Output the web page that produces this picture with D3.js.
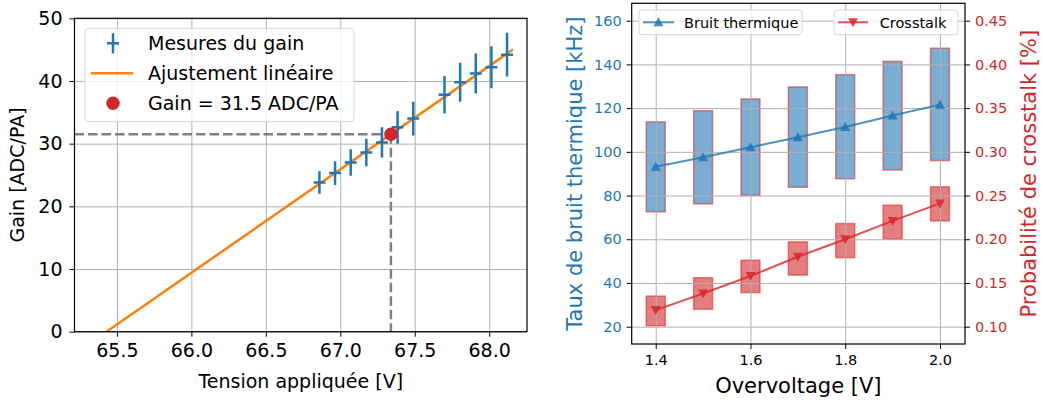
<!DOCTYPE html>
<html><head><meta charset="utf-8">
<script src="https://cdn.jsdelivr.net/npm/d3@7"></script>
<style>body{margin:0;background:#fff} svg{display:block;font-family:"DejaVu Sans",sans-serif}</style>
</head><body><svg id="c" width="1043" height="403"></svg>
<script>
// ---------- Left panel data ----------
const voltages = [66.86, 66.965, 67.07, 67.175, 67.28, 67.385, 67.49, 67.70, 67.805, 67.91, 68.015, 68.12];
const gains    = [23.8, 25.3, 27.0, 28.6, 30.2, 32.6, 34.0, 37.8, 39.8, 41.2, 42.2, 44.2];
const gainErr  = [1.8, 1.9, 2.1, 2.2, 2.4, 2.6, 2.7, 3.0, 3.1, 3.2, 3.35, 3.5];
const voltErr  = [0.04, 0.04, 0.04, 0.04, 0.04, 0.04, 0.04, 0.04, 0.04, 0.04, 0.04, 0.04];
const fitVoltRange = [65.43, 68.16];
const fitSlope = 16.49;      // ADC/PA per V
const fitZero = 65.43;       // V at gain 0
const gainPoint = [67.34, 31.5];
const xTicksLeft = [65.5, 66.0, 66.5, 67.0, 67.5, 68.0];
const yTicksLeft = [0, 10, 20, 30, 40, 50];
const legendLeft = ["Mesures du gain", "Ajustement linéaire", "Gain = 31.5 ADC/PA"];

// ---------- Right panel data ----------
const overvoltage = [1.4, 1.5, 1.6, 1.7, 1.8, 1.9, 2.0];
const thermal     = [93.2, 97.5, 102.1, 106.7, 111.4, 116.6, 121.6];
const thermalLow  = [72.6, 76.2, 80.1, 83.8, 87.7, 91.7, 96.0];
const thermalHigh = [113.7, 118.8, 124.2, 129.7, 135.3, 141.4, 147.4];
const crosstalk   = [0.119, 0.138, 0.158, 0.180, 0.200, 0.221, 0.241];
const crossLow    = [0.101, 0.120, 0.139, 0.159, 0.179, 0.200, 0.221];
const crossHigh   = [0.135, 0.156, 0.176, 0.197, 0.218, 0.239, 0.260];
const xTicksRight = [1.4, 1.6, 1.8, 2.0];
const yTicksThermal = [20, 40, 60, 80, 100, 120, 140, 160];
const yTicksCross = [0.10, 0.15, 0.20, 0.25, 0.30, 0.35, 0.40, 0.45];

const BLUE = "#1f77b4", ORANGE = "#ff7f0e", RED = "#d62728", GRID = "#b0b0b0";
const svg = d3.select("#c");

function styleAxis(g, color, fs) {
  g.select(".domain").remove();
  g.selectAll(".tick line").attr("stroke", "#000").attr("stroke-width", 1);
  g.selectAll(".tick text").attr("fill", color).attr("font-size", fs).attr("font-family", "DejaVu Sans");
}

// ================= LEFT PANEL =================
const L = {x0: 74.5, x1: 527, y0: 18.3, y1: 331.7};
const xL = d3.scaleLinear().domain([65.215, 68.254]).range([L.x0, L.x1]);
const yL = d3.scaleLinear().domain([0, 50]).range([L.y1, L.y0]);
const left = svg.append("g");

// grid
left.append("g").attr("transform", `translate(0,${L.y1})`)
  .call(d3.axisBottom(xL).tickValues(xTicksLeft).tickSize(-(L.y1 - L.y0)).tickFormat(""))
  .call(g => { g.select(".domain").remove(); g.selectAll("line").attr("stroke", GRID).attr("stroke-width", 1); });
left.append("g").attr("transform", `translate(${L.x0},0)`)
  .call(d3.axisLeft(yL).tickValues(yTicksLeft).tickSize(-(L.x1 - L.x0)).tickFormat(""))
  .call(g => { g.select(".domain").remove(); g.selectAll("line").attr("stroke", GRID).attr("stroke-width", 1); });

svg.append("clipPath").attr("id", "clipL").append("rect")
  .attr("x", L.x0).attr("y", L.y0).attr("width", L.x1 - L.x0).attr("height", L.y1 - L.y0);
const plotL = left.append("g").attr("clip-path", "url(#clipL)");

// fit line
const fitPts = fitVoltRange.map(v => [v, fitSlope * (v - fitZero)]);
plotL.append("path").datum(fitPts)
  .attr("d", d3.line().x(d => xL(d[0])).y(d => yL(d[1])))
  .attr("fill", "none").attr("stroke", ORANGE).attr("stroke-width", 2.5);

// dashed guides
plotL.append("line").attr("x1", L.x0).attr("x2", xL(gainPoint[0]))
  .attr("y1", yL(gainPoint[1])).attr("y2", yL(gainPoint[1]))
  .attr("stroke", "#808080").attr("stroke-width", 2.5).attr("stroke-dasharray", "9.5,4");
plotL.append("line").attr("x1", xL(gainPoint[0])).attr("x2", xL(gainPoint[0]))
  .attr("y1", yL(gainPoint[1])).attr("y2", yL(0))
  .attr("stroke", "#808080").attr("stroke-width", 2.5).attr("stroke-dasharray", "9.5,4");

// error bars
const eb = plotL.selectAll("g.eb").data(voltages.map((v, i) => ({v, g: gains[i], ge: gainErr[i], ve: voltErr[i]})))
  .enter().append("g");
eb.append("line").attr("x1", d => xL(d.v)).attr("x2", d => xL(d.v))
  .attr("y1", d => yL(d.g - d.ge)).attr("y2", d => yL(d.g + d.ge))
  .attr("stroke", BLUE).attr("stroke-width", 2.5);
eb.append("line").attr("x1", d => xL(d.v - d.ve)).attr("x2", d => xL(d.v + d.ve))
  .attr("y1", d => yL(d.g)).attr("y2", d => yL(d.g))
  .attr("stroke", BLUE).attr("stroke-width", 2.5);

// red dot
plotL.append("circle").attr("cx", xL(gainPoint[0])).attr("cy", yL(gainPoint[1])).attr("r", 6.7).attr("fill", RED);

// axes
left.append("g").attr("transform", `translate(0,${L.y1})`)
  .call(d3.axisBottom(xL).tickValues(xTicksLeft).tickFormat(d3.format(".1f")).tickSize(5).tickPadding(7))
  .call(g => styleAxis(g, "#000", 19));
left.append("g").attr("transform", `translate(${L.x0},0)`)
  .call(d3.axisLeft(yL).tickValues(yTicksLeft).tickFormat(d3.format("d")).tickSize(5).tickPadding(7))
  .call(g => styleAxis(g, "#000", 19));
left.append("rect").attr("x", L.x0).attr("y", L.y0).attr("width", L.x1 - L.x0).attr("height", L.y1 - L.y0)
  .attr("fill", "none").attr("stroke", "#000").attr("stroke-width", 1.2);

left.append("text").attr("x", (L.x0 + L.x1) / 2).attr("y", 388).attr("text-anchor", "middle")
  .attr("font-size", 19).text("Tension appliquée [V]");
left.append("text").attr("transform", `translate(24,${(L.y0 + L.y1) / 2}) rotate(-90)`).attr("text-anchor", "middle")
  .attr("font-size", 19).text("Gain [ADC/PA]");

// legend left
const lg = left.append("g");
lg.append("rect").attr("x", 85).attr("y", 28.3).attr("width", 269).attr("height", 93.4).attr("rx", 4)
  .attr("fill", "#fff").attr("fill-opacity", 0.8).attr("stroke", "#d6d6d6").attr("stroke-width", 1);
const rows = [43.3, 73.3, 103.3];
lg.append("line").attr("x1", 113).attr("x2", 113).attr("y1", rows[0] - 10).attr("y2", rows[0] + 10).attr("stroke", BLUE).attr("stroke-width", 2.5);
lg.append("line").attr("x1", 107).attr("x2", 119).attr("y1", rows[0]).attr("y2", rows[0]).attr("stroke", BLUE).attr("stroke-width", 2.5);
lg.append("line").attr("x1", 90.7).attr("x2", 133.3).attr("y1", rows[1]).attr("y2", rows[1]).attr("stroke", ORANGE).attr("stroke-width", 2.5);
lg.append("circle").attr("cx", 113).attr("cy", rows[2]).attr("r", 6.7).attr("fill", RED);
legendLeft.forEach((t, i) => {
  lg.append("text").attr("x", 148).attr("y", rows[i]).attr("dy", "0.36em").attr("font-size", 19).text(t);
});

// ================= RIGHT PANEL =================
const R = {x0: 631.7, x1: 965, y0: 3.3, y1: 344};
const xR = d3.scaleLinear().domain([1.3493, 2.0528]).range([R.x0, R.x1]);
const yT = d3.scaleLinear().domain([12.08, 167.96]).range([R.y1, R.y0]);
const yC = d3.scaleLinear().domain([0.0802, 0.4699]).range([R.y1, R.y0]);
const right = svg.append("g");
const boxHalf = 0.02;

svg.append("clipPath").attr("id", "clipR").append("rect")
  .attr("x", R.x0).attr("y", R.y0).attr("width", R.x1 - R.x0).attr("height", R.y1 - R.y0);
const plotR = right.append("g").attr("clip-path", "url(#clipR)");

// thermal boxes
plotR.selectAll("rect.tb").data(overvoltage.map((x, i) => ({x, lo: thermalLow[i], hi: thermalHigh[i]})))
  .enter().append("rect")
  .attr("x", d => xR(d.x - boxHalf)).attr("width", d => xR(d.x + boxHalf) - xR(d.x - boxHalf))
  .attr("y", d => yT(d.hi)).attr("height", d => yT(d.lo) - yT(d.hi))
  .attr("fill", BLUE).attr("fill-opacity", 0.6)
  .attr("stroke", RED).attr("stroke-opacity", 0.55).attr("stroke-width", 1.5);

// crosstalk boxes
plotR.selectAll("rect.cb").data(overvoltage.map((x, i) => ({x, lo: crossLow[i], hi: crossHigh[i]})))
  .enter().append("rect")
  .attr("x", d => xR(d.x - boxHalf)).attr("width", d => xR(d.x + boxHalf) - xR(d.x - boxHalf))
  .attr("y", d => yC(d.hi)).attr("height", d => yC(d.lo) - yC(d.hi))
  .attr("fill", RED).attr("fill-opacity", 0.6)
  .attr("stroke", RED).attr("stroke-opacity", 0.55).attr("stroke-width", 1.5);

// grid (drawn above boxes, as in the reference)
right.append("g").attr("transform", `translate(0,${R.y1})`)
  .call(d3.axisBottom(xR).tickValues(xTicksRight).tickSize(-(R.y1 - R.y0)).tickFormat(""))
  .call(g => { g.select(".domain").remove(); g.selectAll("line").attr("stroke", GRID).attr("stroke-width", 1); });
right.append("g").attr("transform", `translate(${R.x0},0)`)
  .call(d3.axisLeft(yT).tickValues(yTicksThermal).tickSize(-(R.x1 - R.x0)).tickFormat(""))
  .call(g => { g.select(".domain").remove(); g.selectAll("line").attr("stroke", GRID).attr("stroke-width", 1); });

// lines + markers
const plotR2 = right.append("g").attr("clip-path", "url(#clipR)");
const triUp = "M0,-5L5,4L-5,4Z", triDown = "M0,5L5,-4L-5,-4Z";
plotR2.append("path").datum(overvoltage.map((x, i) => [x, thermal[i]]))
  .attr("d", d3.line().x(d => xR(d[0])).y(d => yT(d[1])))
  .attr("fill", "none").attr("stroke", BLUE).attr("stroke-width", 2).attr("stroke-opacity", 0.8);
plotR2.selectAll("path.tm").data(overvoltage.map((x, i) => [x, thermal[i]])).enter().append("path")
  .attr("d", triUp).attr("transform", d => `translate(${xR(d[0])},${yT(d[1])})`)
  .attr("fill", BLUE).attr("fill-opacity", 0.85);
plotR2.append("path").datum(overvoltage.map((x, i) => [x, crosstalk[i]]))
  .attr("d", d3.line().x(d => xR(d[0])).y(d => yC(d[1])))
  .attr("fill", "none").attr("stroke", RED).attr("stroke-width", 2).attr("stroke-opacity", 0.8);
plotR2.selectAll("path.cm").data(overvoltage.map((x, i) => [x, crosstalk[i]])).enter().append("path")
  .attr("d", triDown).attr("transform", d => `translate(${xR(d[0])},${yC(d[1])})`)
  .attr("fill", RED).attr("fill-opacity", 0.85);

// axes
right.append("g").attr("transform", `translate(0,${R.y1})`)
  .call(d3.axisBottom(xR).tickValues(xTicksRight).tickFormat(d3.format(".1f")).tickSize(5).tickPadding(6))
  .call(g => styleAxis(g, "#000", 14.5));
right.append("g").attr("transform", `translate(${R.x0},0)`)
  .call(d3.axisLeft(yT).tickValues(yTicksThermal).tickFormat(d3.format("d")).tickSize(5).tickPadding(5))
  .call(g => styleAxis(g, BLUE, 14.5));
right.append("g").attr("transform", `translate(${R.x1},0)`)
  .call(d3.axisRight(yC).tickValues(yTicksCross).tickFormat(d3.format(".2f")).tickSize(5).tickPadding(5))
  .call(g => styleAxis(g, RED, 14.5));
right.append("rect").attr("x", R.x0).attr("y", R.y0).attr("width", R.x1 - R.x0).attr("height", R.y1 - R.y0)
  .attr("fill", "none").attr("stroke", "#000").attr("stroke-width", 1.2);

right.append("text").attr("x", (R.x0 + R.x1) / 2).attr("y", 393).attr("text-anchor", "middle")
  .attr("font-size", 21).text("Overvoltage [V]");
right.append("text").attr("transform", `translate(582,${(R.y0 + R.y1) / 2}) rotate(-90)`).attr("text-anchor", "middle")
  .attr("font-size", 21).attr("fill", BLUE).text("Taux de bruit thermique [kHz]");
right.append("text").attr("transform", `translate(1036,${(R.y0 + R.y1) / 2}) rotate(-90)`).attr("text-anchor", "middle")
  .attr("font-size", 21).attr("fill", RED).text("Probabilité de crosstalk [%]");

// legends right
function legendBox(x, w, color, tri, label, lx0, lx1, tx) {
  const g = right.append("g");
  g.append("rect").attr("x", x).attr("y", 10).attr("width", w).attr("height", 24.7).attr("rx", 3)
    .attr("fill", "#fff").attr("fill-opacity", 0.8).attr("stroke", "#d6d6d6").attr("stroke-width", 1);
  g.append("line").attr("x1", lx0).attr("x2", lx1).attr("y1", 22.3).attr("y2", 22.3)
    .attr("stroke", color).attr("stroke-width", 2).attr("stroke-opacity", 0.8);
  g.append("path").attr("d", tri).attr("transform", `translate(${(lx0 + lx1) / 2},22.3)`)
    .attr("fill", color).attr("fill-opacity", 0.85);
  g.append("text").attr("x", tx).attr("y", 22.3).attr("dy", "0.36em").attr("font-size", 14.5).text(label);
}
legendBox(639, 163, BLUE, triUp, "Bruit thermique", 643, 674, 684);
legendBox(834, 124, RED, triDown, "Crosstalk", 838, 868, 879.7);
</script></body></html>
